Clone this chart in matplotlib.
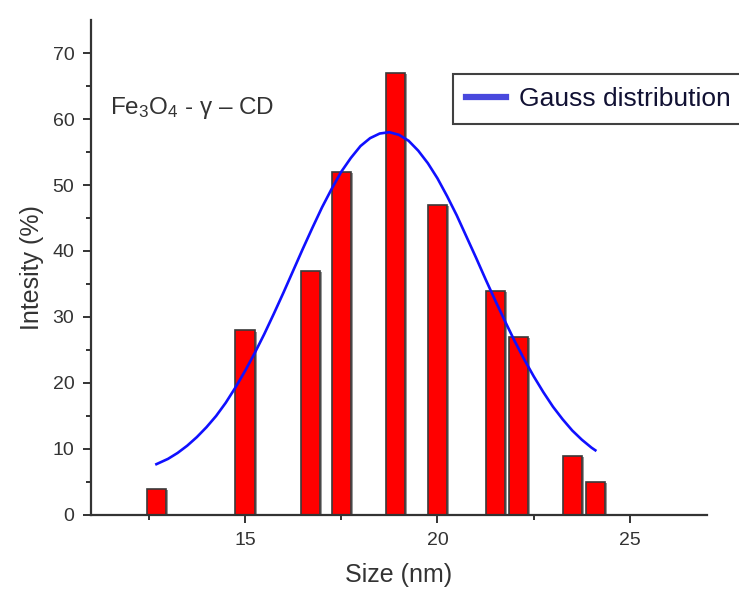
import matplotlib
matplotlib.use("Agg")
import matplotlib.pyplot as plt
from matplotlib.lines import Line2D
import matplotlib.patheffects as pe

plt.rcParams['font.family'] = ['Liberation Sans', 'DejaVu Sans']
plt.rcParams['mathtext.fontset'] = 'custom'
plt.rcParams['mathtext.rm'] = 'Liberation Sans'
plt.rcParams['mathtext.it'] = 'Liberation Sans'

######################### DATA #########################

# particle size bins (nm) and intensity (%)
sizes = [12.7, 15.0, 16.7, 17.5, 18.9, 20.0, 21.5, 22.1, 23.5, 24.1]
intensity = [4, 28, 37, 52, 67, 47, 34, 27, 9, 5]

# gauss fit curve
fit_x = [12.7, 13.0, 13.25, 13.5, 13.75, 14.0, 14.25, 14.5, 14.75, 15.0,
		 15.25, 15.5, 15.75, 16.0, 16.25, 16.5, 16.75, 17.0, 17.25, 17.5,
		 17.75, 18.0, 18.25, 18.5, 18.75, 19.0, 19.25, 19.5, 19.75, 20.0,
		 20.25, 20.5, 20.75, 21.0, 21.25, 21.5, 21.75, 22.0, 22.25, 22.5,
		 22.75, 23.0, 23.25, 23.5, 23.75, 24.0, 24.1]
fit_y = [7.7, 8.5, 9.4, 10.5, 11.8, 13.3, 15.0, 17.0, 19.3, 21.8,
		 24.5, 27.4, 30.5, 33.7, 37.0, 40.3, 43.5, 46.6, 49.4, 52.0,
		 54.1, 55.9, 57.1, 57.8, 58.0, 57.6, 56.7, 55.2, 53.3, 51.0,
		 48.3, 45.4, 42.2, 39.0, 35.7, 32.5, 29.4, 26.4, 23.6, 21.0,
		 18.6, 16.4, 14.5, 12.8, 11.4, 10.2, 9.8]

######################### PLOT #########################

fig = plt.figure(figsize=(7.39, 5.92), dpi=100)
ax = fig.add_axes([0.1231, 0.1301, 0.8336, 0.8361])

shadow = [pe.SimplePatchShadow(offset=(1.5, -1), shadow_rgbFace='0.55', alpha=0.9), pe.Normal()]
ax.bar(sizes, intensity, width=0.5, color='#ff0000', edgecolor='#3a3a3a',
	   linewidth=1.2, path_effects=shadow, zorder=2)

ax.plot(fit_x, fit_y, color='#1010ff', lw=1.9, zorder=3)

ax.set_xlim(11, 27)
ax.set_ylim(0, 75)
ax.set_xticks([15, 20, 25])
ax.set_xticks([12.5, 17.5, 22.5], minor=True)
ax.set_yticks(range(0, 71, 10))
ax.set_yticks(range(5, 75, 10), minor=True)

for s in ['top', 'right']:
	ax.spines[s].set_visible(False)
for s in ['left', 'bottom']:
	ax.spines[s].set_linewidth(1.6)
	ax.spines[s].set_color('#333333')

ax.tick_params(which='major', direction='out', length=6, width=1.4, color='#333333')
ax.tick_params(which='minor', direction='out', length=3.5, width=1.4, color='#333333')
ax.tick_params(labelsize=14, labelcolor='#333333', pad=6)

ax.set_xlabel('Size (nm)', fontsize=18, color='#333333', labelpad=10)
ax.set_ylabel('Intesity (%)', fontsize=18, color='#333333', labelpad=6)

fig.text(110 / 739, 1 - 108 / 592, r'Fe$_3$O$_4$ - γ – CD', fontsize=17.5,
		 color='#333333', va='center', ha='left')

# legend box runs off the right edge of the figure
handle = Line2D([], [], color='#4848dd', lw=4.5)
leg = ax.legend([handle], ['Gauss distribution'], loc='upper left',
				bbox_to_anchor=(453 / 739, 1 - 74 / 592),
				bbox_transform=fig.transFigure, fontsize=19,
				frameon=True, fancybox=False, handlelength=1.5, handletextpad=0.5,
				borderpad=0.5, borderaxespad=0)
leg.get_frame().set_edgecolor('#111111')
leg.get_frame().set_linewidth(1.5)
for t in leg.get_texts():
	t.set_color('#111133')

fig.savefig('out.png', dpi=100)
